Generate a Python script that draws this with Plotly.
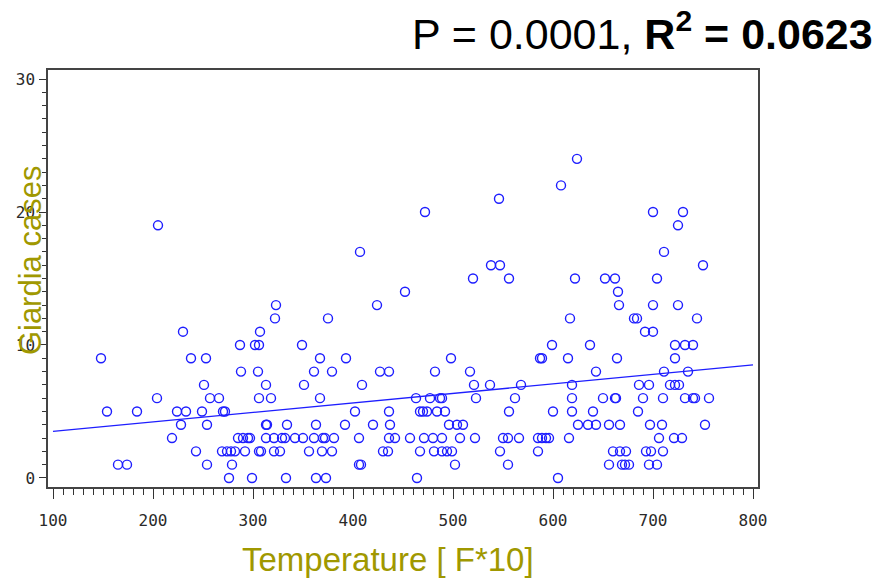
import plotly.graph_objects as go

# Temperature [F*10] of each observation, grouped by the case count it has
temperature = [
    276, 299, 333, 363, 373, 464, 605,
    165, 174, 254, 279, 406, 408, 502, 555, 656, 669, 672, 676, 696, 704,
    243, 269, 274, 278, 282, 292, 306, 308, 321, 327, 356, 369, 379, 430, 435, 467, 481, 489, 494, 499, 547, 585, 660, 667, 673, 693, 698, 710,
    219, 285, 290, 295, 297, 313, 321, 329, 332, 342, 350, 361, 370, 372, 381, 406, 436, 442, 457, 471, 480, 489, 507, 522, 550, 555, 566, 585, 589, 593, 596, 616, 706, 721, 729,
    228, 254, 313, 314, 334, 363, 392, 420, 437, 496, 504, 510, 625, 635, 643, 656, 667, 697, 709, 752,
    154, 184, 224, 233, 249, 270, 272, 402, 436, 467, 470, 474, 484, 492, 556, 600, 619, 640, 685,
    204, 257, 266, 306, 318, 367, 463, 477, 487, 489, 523, 562, 619, 650, 662, 663, 690, 710, 732, 740, 742, 756,
    251, 313, 351, 409, 521, 537, 568, 619, 686, 696, 717, 722, 726,
    288, 305, 361, 379, 427, 436, 482, 517, 643, 711, 735,
    148, 238, 253, 367, 393, 498, 587, 589, 615, 664, 722,
    287, 302, 306, 349, 599, 637, 722, 732, 740,
    230, 307, 692, 700,
    322, 375, 617, 681, 684, 744,
    323, 424, 666, 700, 725,
    452, 665,
    520, 556, 622, 652, 662, 704,
    538, 547, 750,
    407, 711,
    205, 725,
    472, 700, 730,
    546,
    608,
    624,
]

giardia_cases = [
    0, 0, 0, 0, 0, 0, 0,
    1, 1, 1, 1, 1, 1, 1, 1, 1, 1, 1, 1, 1, 1,
    2, 2, 2, 2, 2, 2, 2, 2, 2, 2, 2, 2, 2, 2, 2, 2, 2, 2, 2, 2, 2, 2, 2, 2, 2, 2, 2, 2,
    3, 3, 3, 3, 3, 3, 3, 3, 3, 3, 3, 3, 3, 3, 3, 3, 3, 3, 3, 3, 3, 3, 3, 3, 3, 3, 3, 3, 3, 3, 3, 3, 3, 3, 3,
    4, 4, 4, 4, 4, 4, 4, 4, 4, 4, 4, 4, 4, 4, 4, 4, 4, 4, 4, 4,
    5, 5, 5, 5, 5, 5, 5, 5, 5, 5, 5, 5, 5, 5, 5, 5, 5, 5, 5,
    6, 6, 6, 6, 6, 6, 6, 6, 6, 6, 6, 6, 6, 6, 6, 6, 6, 6, 6, 6, 6, 6,
    7, 7, 7, 7, 7, 7, 7, 7, 7, 7, 7, 7, 7,
    8, 8, 8, 8, 8, 8, 8, 8, 8, 8, 8,
    9, 9, 9, 9, 9, 9, 9, 9, 9, 9, 9,
    10, 10, 10, 10, 10, 10, 10, 10, 10,
    11, 11, 11, 11,
    12, 12, 12, 12, 12, 12,
    13, 13, 13, 13, 13,
    14, 14,
    15, 15, 15, 15, 15, 15,
    16, 16, 16,
    17, 17,
    19, 19,
    20, 20, 20,
    21,
    22,
    24,
]

fit_temperature = [100, 800]
fit_cases = [3.5, 8.5]

x_tick_values = [100, 200, 300, 400, 500, 600, 700, 800]
y_tick_values = [0, 10, 20, 30]

title_text = "P = 0.0001, <b>R<sup>2</sup> = 0.0623</b>"
x_title = "Temperature [ F*10]"
y_title = "Giardia cases"

BLUE = "rgb(30,30,255)"
OLIVE = "rgb(160,152,0)"
TICKFONT = dict(family="DejaVu Sans Mono, monospace", size=16, color="#2a2a2a")

fig = go.Figure()
fig.add_trace(go.Scatter(
    x=fit_temperature, y=fit_cases, mode="lines",
    line=dict(color=BLUE, width=1.3), hoverinfo="skip", showlegend=False))
fig.add_trace(go.Scatter(
    x=temperature, y=giardia_cases, mode="markers",
    marker=dict(symbol="circle-open", size=9, color=BLUE, line=dict(width=1.4, color=BLUE)),
    showlegend=False))

fig.update_layout(
    width=882, height=585,
    margin=dict(l=48, r=124, t=70, b=98),
    paper_bgcolor="white", plot_bgcolor="white",
    showlegend=False,
    xaxis=dict(
        range=[95, 805], tickvals=x_tick_values, ticks="outside", ticklen=10,
        tickwidth=1.2, tickcolor="#333333",
        minor=dict(dtick=10, tick0=100, ticks="outside", ticklen=6, tickcolor="#333333", tickwidth=1),
        showgrid=False, zeroline=False, showline=True, linecolor="#444444", linewidth=1.5,
        mirror=True, tickfont=TICKFONT, ticklabelstandoff=8,
    ),
    yaxis=dict(
        range=[-0.68, 30.68], tickvals=y_tick_values, ticks="outside", ticklen=7,
        tickwidth=1.2, tickcolor="#333333",
        minor=dict(dtick=1, tick0=0, ticks="outside", ticklen=4, tickcolor="#333333", tickwidth=1),
        showgrid=False, zeroline=False, showline=True, linecolor="#444444", linewidth=1.5,
        mirror=True, tickfont=TICKFONT, ticklabelstandoff=1,
    ),
    annotations=[
        dict(text=title_text, xref="paper", yref="paper", x=1.165, y=1.094,
             xanchor="right", yanchor="middle", showarrow=False,
             font=dict(family="Arial, Liberation Sans, sans-serif", size=43, color="black")),
        dict(text=x_title, xref="paper", yref="paper", x=0.479, y=-0.175,
             xanchor="center", yanchor="middle", showarrow=False,
             font=dict(family="Arial, Liberation Sans, sans-serif", size=33, color=OLIVE)),
        dict(text=y_title, xref="paper", yref="paper", x=-0.0254, y=0.544,
             xanchor="center", yanchor="middle", showarrow=False, textangle=-90,
             font=dict(family="Arial, Liberation Sans, sans-serif", size=31, color=OLIVE)),
    ],
)

fig.write_html("out.html")
